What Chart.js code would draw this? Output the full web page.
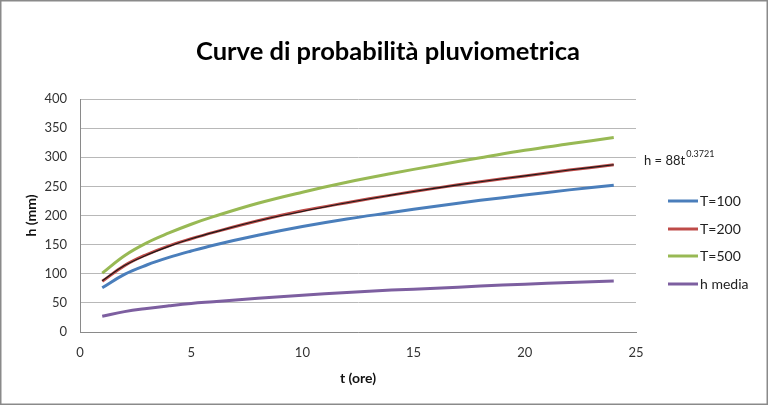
<!DOCTYPE html>
<html>
<head>
<meta charset="utf-8">
<script src="https://cdn.jsdelivr.net/npm/chart.js@4/dist/chart.umd.min.js"></script>
<style>
  html, body { margin: 0; padding: 0; background: #fff; }
  #box { width: 768px; height: 405px; }
</style>
</head>
<body>
<div id="box"><canvas id="grafica" width="768" height="405"></canvas></div>
<script>
const tempi = [1, 2, 3, 4, 5, 6, 8, 10, 12, 14, 16, 18, 20, 22, 24];
const hT100 = [76, 99, 115, 128, 139, 149, 166, 181, 194, 205, 216, 226, 235, 244, 252];
const hT200 = [87, 114, 133, 148, 160, 171, 191, 208, 222, 235, 247, 258, 268, 278, 287];
const hT500 = [101, 131, 153, 170, 185, 198, 221, 240, 257, 272, 286, 299, 312, 323, 334];
const hMedia = [27, 35, 40.5, 45, 49, 52, 58, 63, 68, 72, 75, 79, 82, 85, 87.5];
const tendenza = [88, 114, 132, 147, 160, 171, 191, 207, 222, 235, 247, 258, 268, 278, 287];
const etichette = ['T=100', 'T=200', 'T=500', 'h media'];
const colori = ['#4a7ebb', '#be4b48', '#98b954', '#7d5fa0'];
const titolo = 'Curve di probabilità pluviometrica';

const FONT = 'Lato, "Open Sans", sans-serif';

function punti(ys) {
  return tempi.map((t, i) => ({ x: t, y: ys[i] }));
}

const serie = [hT100, hT200, hT500, hMedia].map((ys, i) => ({
  label: etichette[i],
  data: punti(ys),
  borderColor: colori[i],
  borderWidth: 3,
  pointRadius: 0,
  tension: 0.4,
  fill: false
}));

// trendline (black, thin) drawn over T=200
const linea = {
  label: 'tendenza',
  data: punti(tendenza),
  borderColor: '#1a1a1a',
  borderWidth: 1.1,
  pointRadius: 0,
  tension: 0.4,
  fill: false
};

const extra = {
  id: 'extra',
  beforeDraw(chart) {
    const c = chart.ctx;
    c.save();
    c.fillStyle = '#fff';
    c.fillRect(0, 0, chart.width, chart.height);
    c.restore();
  },
  afterDraw(chart) {
    const c = chart.ctx;
    const a = chart.chartArea;
    c.save();
    // outer border
    c.strokeStyle = '#8a8a8a';
    c.lineWidth = 1.5;
    c.strokeRect(0.75, 0.75, chart.width - 1.5, chart.height - 1.5);

    // title, centred on the whole picture like Excel does
    c.font = 'bold 25.5px ' + FONT;
    c.fillStyle = '#000';
    c.textAlign = 'center';
    c.textBaseline = 'middle';
    c.fillText(titolo, chart.width / 2 + 4, 52);
    c.textAlign = 'left';

    // legend
    c.font = '14px ' + FONT;
    c.fillStyle = '#222';
    const offs = [102, 130, 157, 185];
    etichette.forEach((lab, i) => {
      const y = a.top + offs[i];
      c.strokeStyle = colori[i];
      c.lineWidth = 3;
      c.beginPath();
      c.moveTo(a.right + 32, y);
      c.lineTo(a.right + 62, y);
      c.stroke();
      c.fillText(lab, a.right + 64, y);
    });

    // equation
    c.font = '13px ' + FONT;
    const x0 = a.right + 8;
    const y0 = a.top + 62;
    c.fillText('h = 88t', x0, y0);
    const w = c.measureText('h = 88t').width;
    c.font = '9px ' + FONT;
    c.fillText('0.3721', x0 + w + 1, y0 - 7);
    c.restore();
  }
};

const ctx = document.getElementById('grafica').getContext('2d');
const chart = new Chart(ctx, {
  type: 'line',
  data: { datasets: [linea, ...serie] },
  options: {
    responsive: false,
    animation: false,
    layout: { padding: { left: 0, right: 132, top: 99, bottom: 0 } },
    scales: {
      x: {
        type: 'linear',
        min: 0,
        max: 25,
        ticks: { stepSize: 5, padding: 13, color: '#333', font: { family: FONT, size: 13 } },
        grid: { display: false, drawTicks: false },
        border: { color: '#8a8a8a', width: 1 },
        title: {
          display: true,
          text: 't (ore)',
          color: '#111',
          font: { family: FONT, size: 14, weight: 'bold' },
          padding: { top: 0, bottom: 18 }
        },
        afterFit(s) { s.height = 73; }
      },
      y: {
        min: 0,
        max: 400,
        ticks: { stepSize: 50, padding: 13, color: '#333', font: { family: FONT, size: 13 } },
        grid: { color: '#b8b8b8', drawTicks: false },
        border: { color: '#8a8a8a', width: 1 },
        title: {
          display: true,
          text: 'h (mm)',
          color: '#111',
          font: { family: FONT, size: 14, weight: 'bold' },
          padding: { top: 23, bottom: 0 }
        },
        afterFit(s) { s.width = 80; }
      }
    },
    plugins: {
      legend: { display: false },
      tooltip: { enabled: false },
      title: { display: false }
    }
  },
  plugins: [extra]
});
</script>
</body>
</html>
